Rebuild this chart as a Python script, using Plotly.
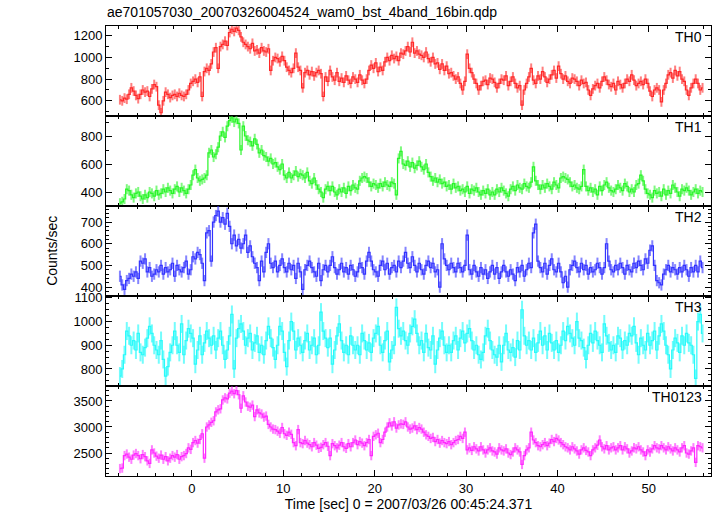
import numpy as np
import plotly.graph_objects as go
from plotly.subplots import make_subplots

TITLE = "ae701057030_20070326004524_wam0_bst_4band_16bin.qdp"
X_TITLE = "Time [sec] 0 = 2007/03/26 00:45:24.371"
Y_TITLE = "Counts/sec"
BANDS = ["TH0", "TH1", "TH2", "TH3", "TH0123"]
TIME_START = -8.0
BIN_WIDTH = 0.25

TH0 = [
    610, 600, 625, 615, 660, 720, 690, 650, 620, 660, 700, 680, 690, 640, 710, 750,
    730, 560, 490, 600, 680, 660, 630, 650, 660, 640, 670, 650, 640, 660, 700, 760,
    780, 800, 770, 820, 640, 870, 900, 880, 940, 1050, 1090, 900, 1100, 1120, 1150, 1110,
    1230, 1260, 1240, 1270, 1250, 1190, 1140, 1120, 1100, 1080, 1130, 1060, 1070, 1040, 1090, 1060,
    1050, 1080, 880, 970, 1000, 990, 960, 1010, 970, 910, 880, 860, 900, 1040, 910, 880,
    720, 860, 880, 840, 870, 830, 860, 880, 850, 640, 820, 780, 880, 820, 790, 860,
    780, 810, 770, 830, 790, 760, 820, 800, 770, 840, 790, 760, 800, 880, 930, 900,
    950, 870, 910, 880, 960, 1000, 970, 1020, 990, 1010, 970, 1040, 1030, 1060, 1100, 1050,
    1140, 1040, 1060, 1030, 1020, 1000, 1050, 990, 960, 1000, 940, 950, 890, 940, 880, 920,
    850, 860, 830, 800, 820, 760, 700, 780, 1030, 900, 860, 800, 760, 700, 740, 780,
    790, 750, 810, 800, 770, 720, 760, 800, 790, 830, 740, 780, 820, 760, 720, 740,
    560, 700, 760, 820, 900, 790, 760, 830, 800, 870, 820, 770, 800, 840, 880, 810,
    920, 850, 800, 830, 780, 760, 810, 800, 780, 740, 790, 760, 770, 700, 650, 710,
    740, 760, 720, 780, 820, 790, 750, 730, 760, 700, 780, 750, 720, 760, 800, 780,
    840, 790, 740, 760, 780, 750, 800, 760, 690, 640, 700, 720, 700, 590, 700, 760,
    840, 860, 810, 880, 830, 870, 800, 780, 700, 650, 720, 760, 800, 760, 700, 720,
]

TH1 = [
    320, 330, 350, 420, 410, 380, 360, 390, 400, 370, 350, 380, 360, 400, 390, 370,
    410, 380, 390, 420, 400, 430, 410, 390, 420, 440, 400, 430, 410, 390, 420, 450,
    520, 560, 500, 480, 490, 500, 520, 680, 700, 650, 670, 720, 800, 830, 790, 870,
    910, 930, 900, 920, 890, 700, 870, 800, 770, 760, 730, 780, 740, 680, 700, 660,
    650, 620, 640, 600, 610, 580, 560, 600, 520, 500, 540, 500, 520, 550, 510, 530,
    520, 500, 540, 480, 460, 500, 450, 420, 400, 360, 420, 440, 410, 440, 400, 380,
    420, 400, 430, 390, 440, 410, 450, 430, 420, 480, 500, 510, 500, 470, 440, 460,
    450, 430, 460, 440, 470, 450, 440, 470, 460, 380, 640, 690, 600, 590, 620, 580,
    610, 570, 590, 620, 580, 560, 600, 540, 510, 480, 500, 470, 490, 460, 470, 440,
    450, 420, 460, 430, 440, 410, 420, 400, 440, 390, 420, 410, 430, 400, 380, 410,
    390, 420, 380, 400, 380, 420, 400, 430, 410, 390, 370, 420, 440, 410, 450, 430,
    420, 460, 440, 430, 470, 580, 480, 450, 420, 450, 430, 460, 440, 420, 470, 450,
    430, 500, 510, 500, 490, 470, 440, 450, 430, 420, 440, 560, 440, 410, 430, 400,
    420, 380, 440, 410, 450, 470, 430, 410, 400, 420, 450, 430, 410, 460, 440, 400,
    420, 400, 450, 460, 520, 480, 420, 390, 380, 360, 410, 390, 400, 370, 420, 380,
    410, 390, 450, 430, 400, 370, 420, 410, 430, 410, 380, 400, 420, 390, 410, 400,
]

TH2 = [
    450, 410, 390, 430, 440, 460, 450, 470, 440, 520, 510, 530, 470, 490, 450, 460,
    480, 470, 500, 460, 490, 470, 480, 510, 450, 500, 480, 470, 490, 520, 460, 480,
    540, 530, 560, 550, 510, 430, 650, 660, 520, 700, 730, 750, 700, 720, 690, 740,
    680, 600, 640, 590, 620, 580, 600, 640, 560, 590, 540, 510, 490, 430, 520, 470,
    560, 600, 510, 490, 520, 470, 500, 530, 490, 470, 510, 480, 500, 440, 510, 470,
    390, 480, 500, 520, 490, 470, 450, 510, 430, 480, 500, 470, 500, 540, 490, 460,
    480, 510, 470, 490, 460, 500, 480, 450, 470, 510, 490, 460, 520, 560, 520, 480,
    470, 450, 500, 520, 480, 510, 460, 490, 500, 470, 520, 490, 520, 560, 510, 490,
    540, 500, 470, 510, 480, 460, 500, 520, 490, 510, 470, 480, 400, 600, 530, 500,
    480, 510, 490, 470, 510, 490, 470, 500, 640, 480, 460, 500, 470, 450, 490, 460,
    480, 440, 470, 500, 460, 490, 440, 470, 500, 470, 450, 480, 460, 430, 490, 470,
    500, 450, 480, 510, 490, 650, 690, 520, 490, 470, 510, 460, 500, 530, 480, 470,
    510, 470, 420, 450, 400, 480, 500, 520, 490, 470, 510, 480, 500, 460, 490, 470,
    480, 510, 490, 460, 490, 600, 520, 480, 470, 500, 480, 510, 490, 460, 500, 480,
    470, 510, 490, 520, 500, 480, 530, 510, 570, 590, 500, 430, 420, 410, 460, 480,
    500, 470, 490, 480, 460, 490, 470, 500, 480, 450, 490, 470, 500, 470, 520, 490,
]

TH3 = [
    770, 800, 860, 960, 940, 900, 920, 880, 950, 870, 860, 890, 930, 980, 950, 900,
    880, 860, 920, 840, 770, 810, 870, 900, 960, 900, 870, 990, 860, 920, 970, 950,
    930, 820, 880, 940, 860, 910, 960, 930, 900, 940, 880, 930, 960, 900, 840, 880,
    940, 1030, 800, 930, 970, 990, 960, 900, 930, 950, 880, 910, 940, 870, 900, 860,
    920, 980, 930, 890, 840, 900, 980, 960, 870, 810, 920, 1000, 960, 880, 930, 900,
    870, 920, 950, 880, 900, 930, 860, 900, 1040, 960, 930, 890, 930, 820, 880, 940,
    990, 920, 870, 900, 860, 940, 900, 880, 900, 860, 950, 920, 880, 910, 870, 930,
    950, 980, 900, 870, 920, 960, 830, 880, 900, 1060, 970, 940, 960, 920, 900, 950,
    980, 1010, 950, 900, 920, 870, 950, 890, 880, 940, 820, 880, 930, 960, 900, 870,
    900, 870, 920, 940, 880, 930, 960, 910, 950, 970, 920, 880, 900, 860, 840, 870,
    940, 970, 920, 880, 860, 850, 900, 830, 900, 950, 880, 870, 890, 850, 920, 880,
    1050, 940, 900, 920, 880, 930, 870, 910, 960, 900, 940, 880, 950, 910, 880, 920,
    870, 900, 960, 920, 980, 950, 930, 900, 1000, 930, 920, 890, 840, 900, 950, 910,
    960, 920, 900, 870, 990, 940, 910, 880, 900, 870, 940, 930, 880, 920, 900, 950,
    940, 980, 910, 860, 930, 900, 880, 950, 900, 920, 960, 880, 940, 990, 960, 900,
    860, 800, 880, 930, 910, 870, 940, 900, 950, 910, 900, 860, 760, 1000, 1030, 950,
]

TH0123 = [
    2200, 2210, 2450, 2480, 2420, 2380, 2460, 2490, 2450, 2390, 2470, 2430, 2350, 2300, 2560, 2500,
    2440, 2400, 2460, 2380, 2430, 2350, 2400, 2450, 2420, 2470, 2380, 2430, 2450, 2490, 2600, 2570,
    2700, 2740, 2690, 2760, 2870, 2400, 3000, 3040, 3090, 3120, 3290, 3330, 3350, 3520, 3560, 3540,
    3650, 3690, 3640, 3700, 3620, 3360, 3600, 3480, 3400, 3380, 3420, 3200, 3330, 3270, 3250, 3190,
    3210, 3050, 3000, 2960, 2950, 2920, 2880, 2990, 2870, 2840, 2900, 2860, 2700, 2640, 2950, 2700,
    2680, 2740, 2690, 2660, 2620, 2700, 2650, 2590, 2610, 2660, 2700, 2630, 2450, 2680, 2640, 2600,
    2650, 2700, 2620, 2590, 2680, 2620, 2700, 2750, 2660, 2720, 2690, 2640, 2700, 2760, 2450, 2820,
    2850, 2880, 2700, 2760, 2900, 3000, 3080, 3020, 3100, 2980, 3040, 3060, 3050, 3100, 3000, 2960,
    2980, 3020, 2950, 2990, 2960, 2900, 2850, 2820, 2780, 2800, 2720, 2760, 2690, 2740, 2700, 2680,
    2720, 2660, 2700, 2740, 2760, 2820, 2780, 2900, 2560, 2600, 2550, 2620, 2580, 2540, 2620, 2560,
    2500, 2560, 2600, 2540, 2520, 2480, 2600, 2560, 2540, 2580, 2500, 2470, 2520, 2600, 2560, 2520,
    2280, 2450, 2560, 2600, 2900, 2750, 2700, 2640, 2620, 2660, 2700, 2640, 2690, 2760, 2720, 2780,
    2750, 2700, 2660, 2620, 2600, 2560, 2620, 2580, 2540, 2480, 2560, 2600, 2550, 2520, 2450, 2560,
    2600, 2650, 2750, 2620, 2580, 2640, 2560, 2600, 2620, 2560, 2600, 2640, 2560, 2620, 2580, 2500,
    2540, 2600, 2580, 2620, 2560, 2520, 2450, 2560, 2520, 2580, 2640, 2600, 2580, 2640, 2600, 2560,
    2620, 2580, 2540, 2600, 2560, 2520, 2600, 2640, 2500, 2480, 2540, 2600, 2320, 2640, 2620, 2600,
]

SERIES = [TH0, TH1, TH2, TH3, TH0123]
ERRORS = [45, 36, 26, 38, 90]
COLORS = ["rgb(255,40,40)", "rgb(40,245,40)", "rgb(50,50,255)", "rgb(40,250,250)", "rgb(255,40,255)"]
LIGHT = ["rgba(255,40,40,0.6)", "rgba(40,245,40,0.6)", "rgba(50,50,255,0.6)",
         "rgba(40,250,250,0.65)", "rgba(255,40,255,0.6)"]
Y_RANGES = [[460, 1290], [300, 943], [359, 774], [728, 1108], [2058, 3788]]
Y_DTICK = [200, 200, 100, 100, 500]
Y_MINOR = [100, 100, 20, 25, 100]
X_RANGE = [-9.4, 56.8]

FONT = "Liberation Sans, Arial, Helvetica, sans-serif"

fig = make_subplots(rows=5, cols=1, shared_xaxes=True, vertical_spacing=0)

for i, vals in enumerate(SERIES):
    t = TIME_START + BIN_WIDTH * (np.arange(len(vals)) + 0.5)
    fig.add_trace(go.Scatter(
        x=t, y=vals, mode="lines",
        line=dict(shape="hvh", width=1.2, color=COLORS[i]),
        error_y=dict(type="constant", value=ERRORS[i], color=LIGHT[i], thickness=2, width=0),
        showlegend=False, hoverinfo="skip"), row=i + 1, col=1)
    fig.update_yaxes(range=Y_RANGES[i], dtick=Y_DTICK[i], tick0=0,
                     minor=dict(dtick=Y_MINOR[i], ticks="inside", ticklen=3, tickcolor="black"),
                     row=i + 1, col=1)
    fig.add_annotation(text=BANDS[i], xref="paper", yref=f"y{i + 1 if i else ''} domain",
                       x=0.988, y=0.99, xanchor="right", yanchor="top", showarrow=False,
                       font=dict(size=14, color="black", family=FONT))

fig.update_yaxes(ticks="inside", ticklen=6, tickcolor="black", mirror="allticks", showline=True,
                 linecolor="black", linewidth=1, showgrid=False, zeroline=False,
                 tickfont=dict(size=13, color="black", family=FONT))
fig.update_xaxes(range=X_RANGE, dtick=10, tick0=0, ticks="inside", ticklen=6, tickcolor="black",
                 minor=dict(dtick=2, ticks="inside", ticklen=3, tickcolor="black"),
                 mirror="allticks", showline=True, linecolor="black", linewidth=1,
                 showgrid=False, zeroline=False, tickfont=dict(size=13, color="black", family=FONT))
fig.update_xaxes(title=dict(text=X_TITLE, font=dict(size=14, color="black", family=FONT), standoff=0),
                 row=5, col=1)

fig.add_annotation(text=Y_TITLE, xref="paper", yref="paper", x=-0.106, y=0.5, textangle=-90,
                   showarrow=False, font=dict(size=14, color="black", family=FONT))

fig.update_layout(
    width=717, height=516, margin=dict(l=106, r=6, t=26, b=40),
    paper_bgcolor="white", plot_bgcolor="white",
    title=dict(text=TITLE, x=107 / 717, xanchor="left", y=1 - 12 / 516, yanchor="middle",
               font=dict(size=14, color="black", family=FONT)),
)

fig.write_html("out.html", config={"displayModeBar": False},
               post_script="document.body.style.margin='0';")
